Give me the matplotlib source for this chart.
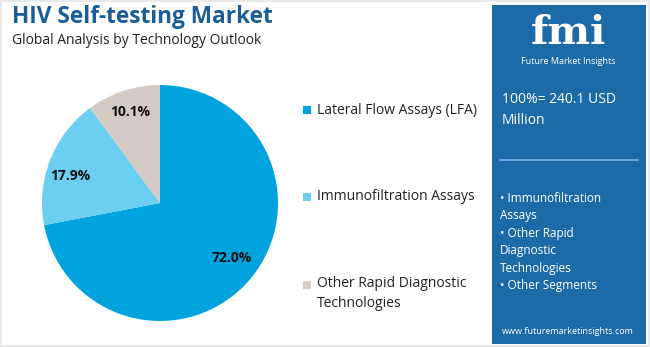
import matplotlib
matplotlib.use("Agg")
import matplotlib.pyplot as plt
from matplotlib.patches import Rectangle

categories = ["Lateral Flow Assays (LFA)", "Immunofiltration Assays",
              "Other Rapid Diagnostic\nTechnologies"]
values = [72.0, 17.9, 10.1]
colors = ["#00a3dc", "#6ccff2", "#d5cbc5"]
pct_labels = ["72.0%", "17.9%", "10.1%"]

W, H = 650, 347
fig = plt.figure(figsize=(W / 100, H / 100), dpi=100)
fig.patch.set_facecolor("white")
FONT = "Open Sans"

def fx(x):
    return x / W

def fy(y):
    return 1 - y / H

# outer light border
fig.add_artist(Rectangle((0.001, 0.002), 0.997, 0.995, transform=fig.transFigure,
                         fill=False, edgecolor="#e6e6e6", lw=1.2))

# Title
fig.text(fx(12), fy(17), "HIV Self-testing Market", fontsize=16.3, fontweight="bold",
         color="#1a5e99", family=FONT, va="center", ha="left")
fig.text(fx(12), fy(40), "Global Analysis by Technology Outlook", fontsize=10,
         color="#222222", family=FONT, va="center", ha="left")

# Pie
cx, cy, r = 160, 203, 118
ax = fig.add_axes([fx(cx - r), 1 - (cy + r) / H, 2 * r / W, 2 * r / H])
wedges, _ = ax.pie(values, colors=colors, startangle=90, counterclock=False,
                   radius=1.0, wedgeprops=dict(linewidth=0))
ax.set_xlim(-1, 1)
ax.set_ylim(-1, 1)
ax.set_aspect("equal")
ax.axis("off")

label_pos = [(232, 258), (70, 176), (130, 112)]
for (px, py), t in zip(label_pos, pct_labels):
    fig.text(fx(px), fy(py), t, fontsize=10, fontweight="bold", color="#111111",
             family=FONT, ha="center", va="center")

# Legend
leg_rows = [110, 197, 285]
for yy, c, name in zip(leg_rows, colors, categories):
    fig.add_artist(Rectangle((fx(303), fy(yy + 4)), 8 / W, 8 / H,
                             transform=fig.transFigure, facecolor=c, edgecolor="none"))
    if "\n" in name:
        fig.text(fx(317), fy(yy - 9), name, fontsize=10, color="#222222", family=FONT,
                 ha="left", va="top", linespacing=1.45)
    else:
        fig.text(fx(317), fy(yy), name, fontsize=10, color="#222222", family=FONT,
                 ha="left", va="center")

# Right panel
px0, py0, px1, py1 = 492, 5, 646, 344
fig.add_artist(Rectangle((fx(px0), fy(py1)), (px1 - px0) / W, (py1 - py0) / H,
                         transform=fig.transFigure, facecolor="#1c6aa6", edgecolor="none"))
fig.text(fx(568), fy(33), "fmi", fontsize=29, fontweight="bold", color="white",
         family="DejaVu Serif", ha="center", va="center")
fig.text(fx(568), fy(62), "Future Market Insights", fontsize=6.5, color="white",
         family=FONT, ha="center", va="center")
fig.text(fx(502), fy(100), "100%= 240.1 USD", fontsize=10, color="white",
         family=FONT, ha="left", va="center")
fig.text(fx(502), fy(120), "Million", fontsize=10, color="white",
         family=FONT, ha="left", va="center")
fig.add_artist(plt.Line2D([fx(500), fx(638)], [fy(160), fy(160)], color="#7db8e6",
                          lw=1.2, transform=fig.transFigure))
bullets = ["• Immunofiltration", "Assays", "• Other Rapid", "Diagnostic",
           "Technologies", "• Other Segments"]
for i, b in enumerate(bullets):
    fig.text(fx(500), fy(198 + i * 17.6), b, fontsize=8.5, color="white",
             family=FONT, ha="left", va="center")
fig.text(fx(568), fy(332), "www.futuremarketinsights.com", fontsize=6.5,
         color="white", family=FONT, ha="center", va="center")

fig.savefig("out.png", dpi=100, facecolor="white")
